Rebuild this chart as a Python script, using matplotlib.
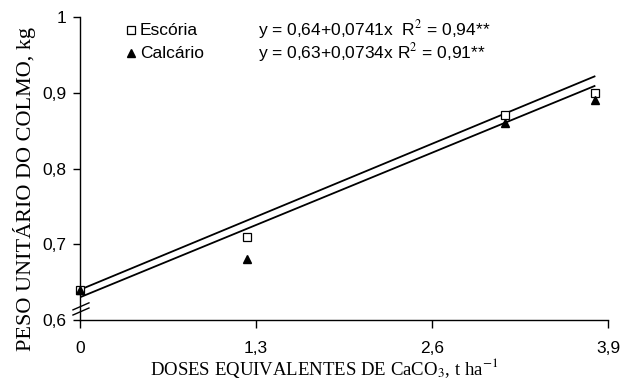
import numpy as np
import matplotlib.pyplot as plt

plt.rcParams['font.family'] = ['Liberation Sans', 'DejaVu Sans']
plt.rcParams['mathtext.fontset'] = 'stix'

# dados
doses = [0, 1.23, 3.14, 3.80]
escoria = [0.64, 0.71, 0.87, 0.90]
calcario = [0.64, 0.68, 0.86, 0.89]
coef_esc = (0.64, 0.0741)
coef_cal = (0.63, 0.0734)
eq_esc = 'y = 0,64+0,0741x  R$^2$ = 0,94**'
eq_cal = 'y = 0,63+0,0734x R$^2$ = 0,91**'
xticks = [0, 1.3, 2.6, 3.9]
xticklabels = ['0', '1,3', '2,6', '3,9']
yticks = [0.6, 0.7, 0.8, 0.9, 1.0]
yticklabels = ['0,6', '0,7', '0,8', '0,9', '1']

fig = plt.figure(figsize=(6.23, 3.85), dpi=100)
ax = fig.add_axes([0.1284, 0.1688, 0.8476, 0.787])

xl = np.array([0, doses[-1]])
ax.plot(xl, coef_esc[0] + coef_esc[1] * xl, color='black', lw=1.3)
ax.plot(xl, coef_cal[0] + coef_cal[1] * xl, color='black', lw=1.3)

ax.plot(doses, escoria, ls='none', marker='s', ms=6, mfc='white', mec='black',
        mew=0.9, clip_on=False, zorder=3)
ax.plot(doses, calcario, ls='none', marker='^', ms=6, color='black',
        clip_on=False, zorder=4)

ax.set_xlim(0, 3.9)
ax.set_ylim(0.6, 1.0)
ax.set_xticks(xticks)
ax.set_xticklabels(xticklabels)
ax.set_yticks(yticks)
ax.set_yticklabels(yticklabels)
ax.tick_params(labelsize=12.5, width=1, colors='black')
ax.tick_params(axis='x', length=6, pad=9)
ax.tick_params(axis='y', length=5, pad=5)
for s in ['top', 'right']:
    ax.spines[s].set_visible(False)
for s in ['left', 'bottom']:
    ax.spines[s].set_linewidth(1)

# quebra do eixo y
for dy in [0.0, 0.017]:
    ax.plot([-0.0133, 0.017], [0.0165 + dy, 0.0396 + dy], transform=ax.transAxes,
            color='black', lw=1, clip_on=False)

# legenda manual
ax.plot([0.0966], [0.957], transform=ax.transAxes, marker='s', ms=6, mfc='white',
        mec='black', mew=0.9, clip_on=False)
ax.plot([0.0966], [0.881], transform=ax.transAxes, marker='^', ms=6, color='black',
        clip_on=False)
ax.text(0.1136, 0.957, 'Escória', transform=ax.transAxes, fontsize=12.5, va='center')
ax.text(0.1136, 0.881, 'Calcário', transform=ax.transAxes, fontsize=12.5, va='center')
ax.text(0.337, 0.96, eq_esc, transform=ax.transAxes, fontsize=12.5, va='center')
ax.text(0.337, 0.884, eq_cal, transform=ax.transAxes, fontsize=12.5, va='center')

fig.text(324 / 623, 1 - 368 / 385, 'DOSES EQUIVALENTES DE CaCO$_3$, t ha$^{-1}$',
         family='Liberation Serif', fontsize=13.5, ha='center', va='center')
fig.text(25 / 623, 1 - 189 / 385, 'PESO UNITÁRIO DO COLMO, kg', family='Liberation Serif',
         fontsize=16, ha='center', va='center', rotation=90)

fig.savefig('out.png', dpi=100)
